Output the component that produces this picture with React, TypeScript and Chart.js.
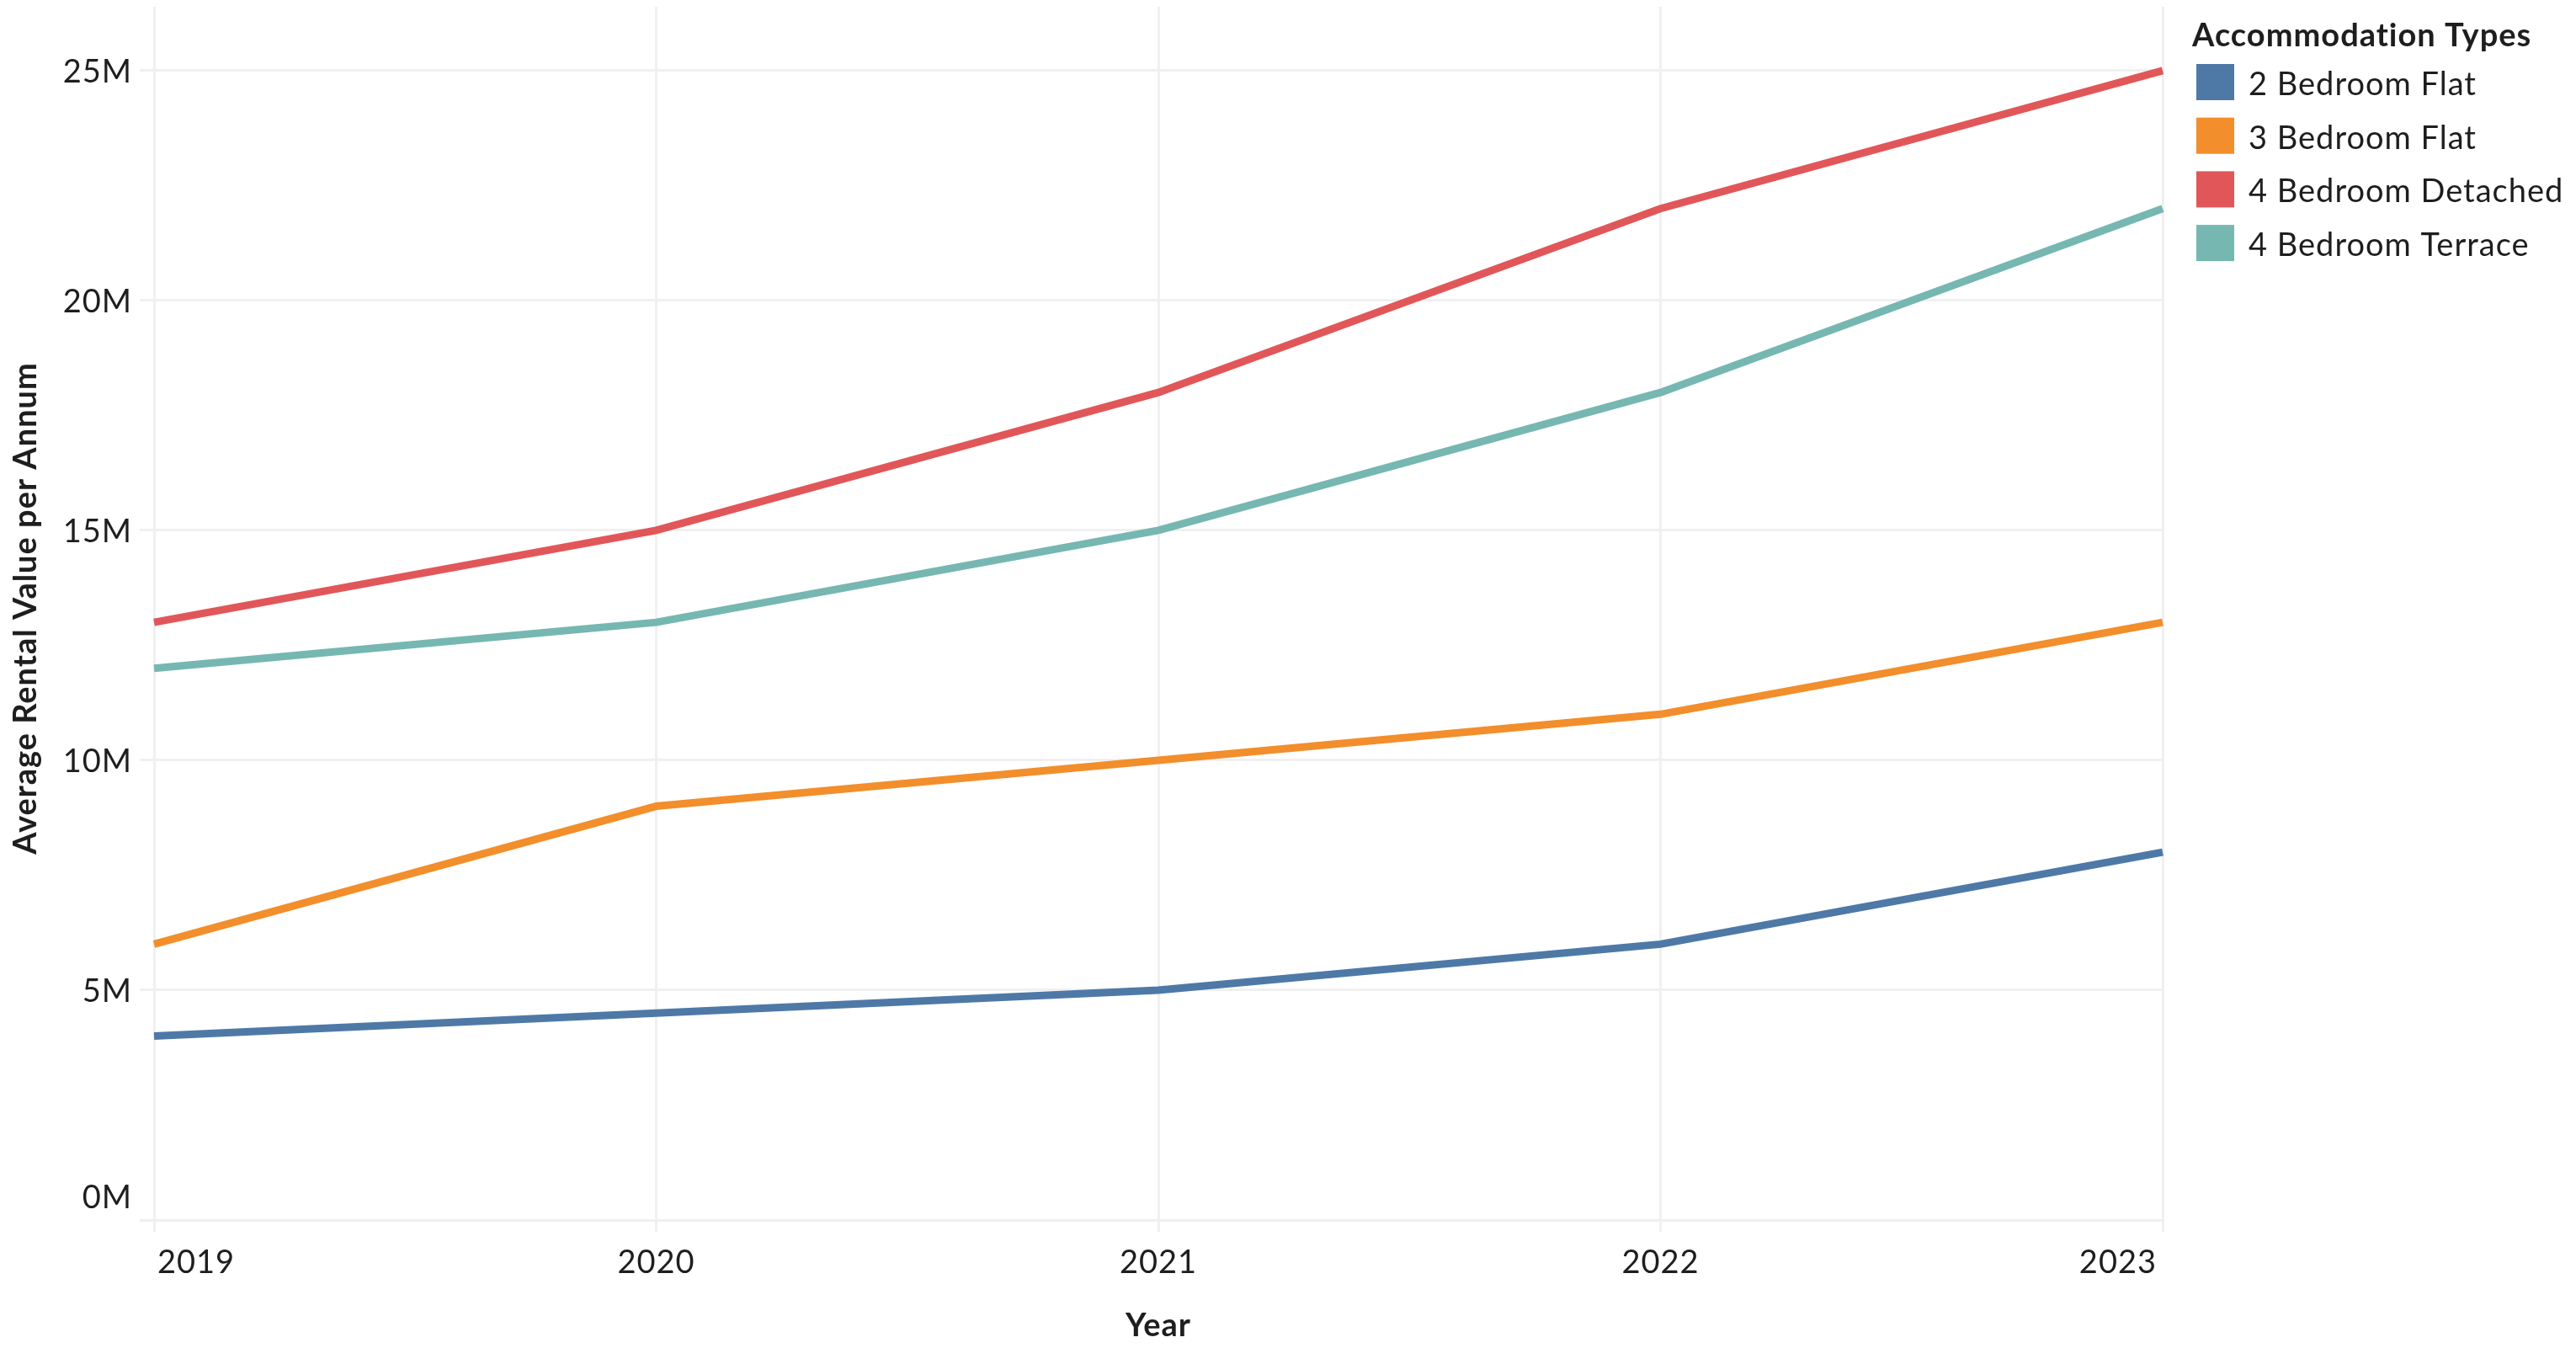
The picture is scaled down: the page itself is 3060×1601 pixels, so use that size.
import React, { useEffect, useRef } from "react";
import { Chart, registerables } from "chart.js";

Chart.register(...registerables);

const years = ["2019", "2020", "2021", "2022", "2023"];
const seriesNames = ["2 Bedroom Flat", "3 Bedroom Flat", "4 Bedroom Detached", "4 Bedroom Terrace"];
const twoBedFlat = [4.0, 4.5, 5.0, 6.0, 8.0];
const threeBedFlat = [6.0, 9.0, 10.0, 11.0, 13.0];
const fourBedDetached = [13.0, 15.0, 18.0, 22.0, 25.0];
const fourBedTerrace = [12.0, 13.0, 15.0, 18.0, 22.0];
const yTicks = [0, 5, 10, 15, 20, 25];
const yTickLabels = ["0M", "5M", "10M", "15M", "20M", "25M"];
const colors = ["#4e79a7", "#f28e2b", "#e15759", "#76b7b2"];
const legendTitle = "Accommodation Types";
const xTitle = "Year";
const yTitle = "Average Rental Value per Annum";

const FONT = "Lato, 'Noto Sans', sans-serif";
const TEXT = "#1e1e1e";

const labelPlugin = {
  id: "customLabels",
  afterDraw(chart: any) {
    const ctx = chart.ctx;
    const area = chart.chartArea;
    const xs = chart.scales.x;
    const ys = chart.scales.y;
    ctx.save();
    ctx.fillStyle = TEXT;
    ctx.textBaseline = "alphabetic";
    (ctx as any).letterSpacing = "1px";
    // x tick labels
    ctx.font = `38px ${FONT}`;
    years.forEach((lab, i) => {
      const px = xs.getPixelForValue(i);
      if (i === 0) {
        ctx.textAlign = "left";
        ctx.fillText(lab, px + 4, area.bottom + 63);
      } else if (i === years.length - 1) {
        ctx.textAlign = "right";
        ctx.fillText(lab, px - 7, area.bottom + 63);
      } else {
        ctx.textAlign = "center";
        ctx.fillText(lab, px, area.bottom + 63);
      }
    });
    // y tick labels
    ctx.textAlign = "right";
    yTicks.forEach((v, i) => {
      const py = ys.getPixelForValue(v);
      const base = i === 0 ? py - 14 : py + 14;
      ctx.fillText(yTickLabels[i], area.left - 26, base);
    });
    // axis titles
    ctx.font = `bold 38px ${FONT}`;
    ctx.textAlign = "center";
    ctx.fillText(xTitle, (area.left + area.right) / 2, area.bottom + 138);
    ctx.save();
    ctx.translate(43, (area.top + area.bottom) / 2 - 6);
    ctx.rotate(-Math.PI / 2);
    ctx.fillText(yTitle, 0, 0);
    ctx.restore();
    // legend
    ctx.textAlign = "left";
    ctx.font = `bold 38px ${FONT}`;
    ctx.fillText(legendTitle, 2604, 55);
    ctx.font = `38px ${FONT}`;
    chart.data.datasets.forEach((ds: any, i: number) => {
      const top = 76 + i * 63.7;
      ctx.fillStyle = ds.borderColor;
      ctx.fillRect(2609, top, 45, 43);
      ctx.fillStyle = TEXT;
      ctx.fillText(ds.label, 2671, 113 + i * 63.7);
    });
    ctx.restore();
  },
};

export default function App() {
  const ref = useRef<HTMLCanvasElement | null>(null);
  useEffect(() => {
    document.body.style.margin = "0";
    const canvas = ref.current;
    if (!canvas) return;
    const values = [twoBedFlat, threeBedFlat, fourBedDetached, fourBedTerrace];
    const chart = new Chart(canvas, {
      type: "line",
      data: {
        labels: years,
        datasets: seriesNames.map((name, i) => ({
          label: name,
          data: values[i],
          borderColor: colors[i],
          backgroundColor: colors[i],
          borderWidth: 9,
          pointRadius: 0,
          pointHoverRadius: 0,
          tension: 0,
          fill: false,
        })),
      },
      options: {
        animation: false,
        responsive: false,
        devicePixelRatio: 1,
        layout: { padding: { top: 8, right: 491, left: 0, bottom: 0 } },
        plugins: {
          legend: { display: false },
          tooltip: { enabled: false },
          title: { display: false },
        },
        scales: {
          x: {
            type: "category",
            offset: false,
            grid: { color: "#f0f0f0", lineWidth: 3, drawTicks: true, tickLength: 14, offset: false },
            border: { display: false },
            ticks: { display: false },
            afterFit: (s: any) => {
              s.height = 152;
            },
          },
          y: {
            type: "linear",
            min: 0,
            max: 26.39,
            grid: { color: "#f0f0f0", lineWidth: 3, drawTicks: true, tickLength: 17 },
            border: { display: false },
            ticks: { display: false },
            afterBuildTicks: (s: any) => {
              s.ticks = yTicks.map((v) => ({ value: v }));
            },
            afterFit: (s: any) => {
              s.width = 183;
            },
          },
        },
      },
      plugins: [labelPlugin],
    });
    return () => chart.destroy();
  }, []);
  return (
    <div style={{ position: "fixed", left: 0, top: 0, width: 3060, height: 1601, background: "#ffffff" }}>
      <canvas ref={ref} width={3060} height={1601} style={{ width: 3060, height: 1601, display: "block" }} />
    </div>
  );
}
